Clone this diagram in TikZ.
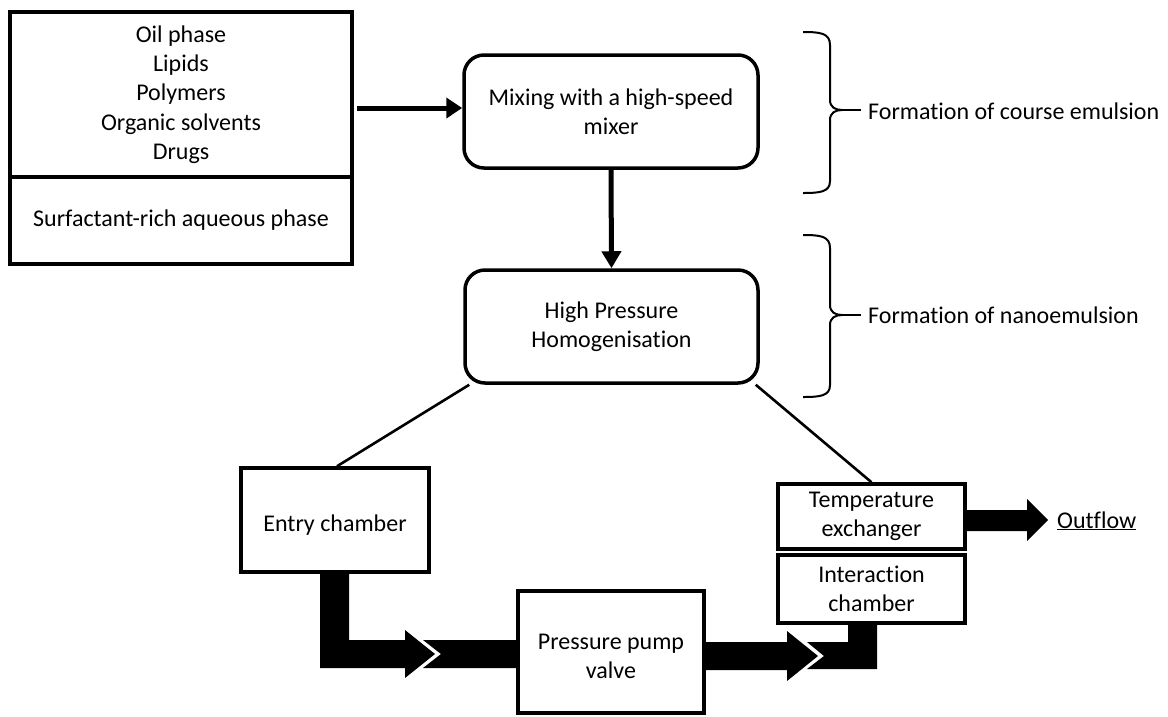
\documentclass[tikz,border=0pt]{standalone}
\usepackage{fontspec}
\setmainfont{Carlito}[Ligatures=NoCommon]
\usetikzlibrary{arrows.meta}
\begin{document}
\begin{tikzpicture}[x=1pt,y=-1pt,
  every node/.style={font=\fontsize{24}{29.3}\selectfont, align=center, inner sep=0pt},
  sqbox/.style={draw, line width=3.5pt},
  rbox/.style={draw, line width=3.5pt, rounded corners=20pt},
  flowarrow/.style={fill=black},
  link/.style={line width=2.6pt},
  bracepath/.style={line width=2pt},
  thickarrow/.style={line width=5pt, -{Triangle[length=16pt,width=20pt]}}]
\fill[white] (0,0) rectangle (1168,716);
\path[use as bounding box] (0,0) rectangle (1168,716);

% boxes
\node[sqbox, minimum width=342pt, minimum height=165pt] (oil) at (181,94.5)
  {Oil phase\\Lipids\\Polymers\\Organic solvents\\Drugs};
\node[sqbox, minimum width=342pt, minimum height=87pt] (aq) at (181,220.5)
  {Surfactant-rich aqueous phase};
\node[sqbox, minimum width=294pt, minimum height=113pt, rounded corners=20pt] (mix) at (611,111.5)
  {Mixing with a high-speed\\mixer};
\node[rbox, minimum width=293pt, minimum height=113pt] (hph) at (611.5,326.5)
  {High Pressure\\Homogenisation};
\node[sqbox, minimum width=188pt, minimum height=104pt] (entry) at (335,520)
  {\rule{0pt}{26pt}Entry chamber};
\node[sqbox, minimum width=186pt, minimum height=122pt] (pump) at (611,652)
  {\rule{0pt}{24pt}Pressure pump\\valve};
\node[sqbox, minimum width=187pt, minimum height=65pt] (temp) at (871.5,516.5)
  {Temperature\\exchanger};
\node[sqbox, minimum width=187pt, minimum height=68pt] (inter) at (871.5,589)
  {Interaction\\chamber};

% labels
\node[anchor=base west] (lab1) at (868,119) {Formation of course emulsion};
\node[anchor=base west] (lab2) at (868,323) {Formation of nanoemulsion};
\node[anchor=base west] (out) at (1057,528) {\underline{Outflow}};

% arrows
\coordinate (a1) at (357,108);
\draw[thickarrow] (a1) -- (mix.west |- a1);
\draw[line width=5pt, -{Triangle[length=17pt,width=19pt]}] (mix.south) -- (hph.north);

% links
\draw[link] ([xshift=6pt]hph.south west) -- ([xshift=2pt]entry.north);
\draw[link] ([xshift=-4pt]hph.south east) -- (temp.north);

% braces
\draw[bracepath] (803,32) .. controls (820,32) and (830,33) .. (830,45) -- (830,100)
  .. controls (830,107) and (835,110) .. (842,110)
  .. controls (835,110) and (830,113) .. (830,120) -- (830,181)
  .. controls (830,192) and (820,193) .. (803,193);
\draw[bracepath, shorten >=7pt] (842,110) -- (lab1.west |- 0,110);
\draw[bracepath] (803,235) .. controls (820,235) and (830,236) .. (830,248) -- (830,305)
  .. controls (830,312) and (835,315) .. (842,315)
  .. controls (835,315) and (830,318) .. (830,325) -- (830,385)
  .. controls (830,396) and (820,397) .. (803,397);
\draw[bracepath, shorten >=7pt] (842,315) -- (lab2.west |- 0,315);

% block flow arrows
\fill[flowarrow] (320,572) -- (349,572) -- (349,640) -- (405,640) -- (405,630) -- (435,654)
  -- (405,678) -- (405,668) -- (320,668) -- cycle;
\fill[flowarrow] (423,640) -- (518,640) -- (518,668) -- (423,668) -- (441,654) -- cycle;
\fill[flowarrow] (704,642) -- (787,642) -- (787,631) -- (818,656) -- (787,681)
  -- (787,670) -- (704,670) -- cycle;
\fill[flowarrow] (807,642) -- (848,642) -- (848,623) -- (877,623) -- (877,669)
  -- (807,669) -- (824,656) -- cycle;
\fill[flowarrow] (965,510) -- (1027,510) -- (1027,499) -- (1048,520) -- (1027,541)
  -- (1027,531) -- (965,531) -- cycle;
\end{tikzpicture}
\end{document}
